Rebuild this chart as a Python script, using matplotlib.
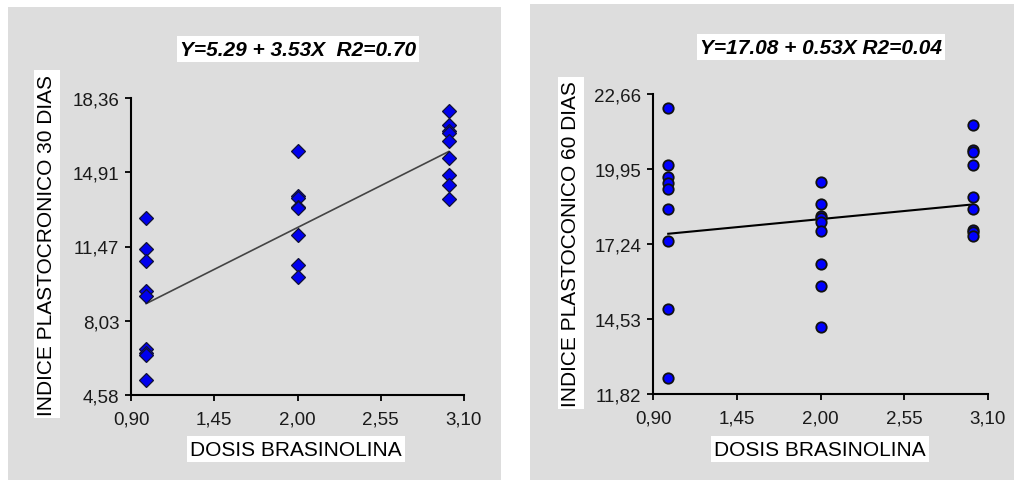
import matplotlib.pyplot as plt
from matplotlib.patches import Rectangle
import numpy as np

plt.rcParams['font.family'] = ['Liberation Sans', 'DejaVu Sans']

# Índice plastocrónico a los 30 días
dosis_30 = [1, 1, 1, 1, 1, 1, 1, 1, 1,
            2, 2, 2, 2, 2, 2, 2, 2,
            3, 3, 3, 3, 3, 3, 3, 3, 3]
ip_30 = [12.78, 11.37, 10.80, 9.41, 9.16, 6.71, 6.53, 6.44, 5.28,
         15.89, 13.83, 13.74, 13.32, 13.24, 12.02, 10.63, 10.04,
         17.77, 17.12, 16.82, 16.74, 16.38, 15.56, 14.80, 14.32, 13.67]
coef_30 = (5.29, 3.53)
r2_30 = 0.70
yticks_30 = [4.58, 8.03, 11.47, 14.91, 18.36]

# Índice plastocrónico a los 60 días
dosis_60 = [1, 1, 1, 1, 1, 1, 1, 1, 1,
            2, 2, 2, 2, 2, 2, 2, 2, 2,
            3, 3, 3, 3, 3, 3, 3, 3, 3]
ip_60 = [22.16, 20.10, 19.67, 19.43, 19.21, 18.50, 17.34, 14.89, 12.39,
         19.47, 18.68, 18.26, 18.17, 18.05, 17.72, 16.50, 15.73, 14.25,
         21.53, 20.65, 20.57, 20.10, 18.95, 18.50, 17.76, 17.66, 17.54]
coef_60 = (17.08, 0.53)
r2_60 = 0.04
yticks_60 = [11.82, 14.53, 17.24, 19.95, 22.66]

xticks = [0.90, 1.45, 2.00, 2.55, 3.10]

W, H = 1014, 481
fig = plt.figure(figsize=(W / 100, H / 100), dpi=100)
fig.patch.set_facecolor('white')

bg = '#dddddd'
fig.patches.append(Rectangle((8 / W, 0), 493 / W, 473 / H, transform=fig.transFigure,
                             facecolor=bg, edgecolor='none', zorder=-10))
fig.patches.append(Rectangle((530 / W, 0), 484 / W, 476 / H, transform=fig.transFigure,
                             facecolor=bg, edgecolor='none', zorder=-10))

ax1 = fig.add_axes([131 / W, 1 - 396 / H, 333 / W, 297 / H])
ax2 = fig.add_axes([653 / W, 1 - 395 / H, 335 / W, 300 / H])


def fmt(v):
    return f'{v:.2f}'.replace('.', ',')


def estilo(ax, yticks):
    ax.set_facecolor('none')
    for s in ('top', 'right'):
        ax.spines[s].set_visible(False)
    for s in ('left', 'bottom'):
        ax.spines[s].set_linewidth(1.5)
    ax.set_xlim(xticks[0], xticks[-1])
    ax.set_ylim(yticks[0], yticks[-1])
    ax.set_xticks(xticks)
    ax.set_xticklabels([fmt(v) for v in xticks])
    ax.set_yticks(yticks)
    ax.set_yticklabels([fmt(v) for v in yticks])
    ax.tick_params(direction='out', length=4.5, width=1.3, labelsize=13.5,
                   labelcolor='#1a1a1a')
    ax.tick_params(axis='x', pad=7)
    ax.tick_params(axis='y', pad=4)


estilo(ax1, yticks_30)
estilo(ax2, yticks_60)

xl = np.array([1.0, 3.0])
ax1.plot(xl, coef_30[0] + coef_30[1] * xl, color='#444444', lw=1.2, zorder=2)
ax1.plot(dosis_30, ip_30, linestyle='none', marker='D', markersize=7,
         markerfacecolor='#0000ee', markeredgecolor='#111133', markeredgewidth=0.9,
         zorder=3, clip_on=False)

ax2.plot(xl, coef_60[0] + coef_60[1] * xl, color='black', lw=1.5, zorder=2)
ax2.plot(dosis_60, ip_60, linestyle='none', marker='o', markersize=7.5,
         markerfacecolor='#0000ff', markeredgecolor='#111111', markeredgewidth=1.3,
         zorder=3, clip_on=False)

box = dict(facecolor='white', edgecolor='none', boxstyle='square,pad=0.15')

fig.text(298 / W, 1 - 50 / H,
         f'Y={coef_30[0]:.2f} + {coef_30[1]:.2f}X  R2={r2_30:.2f}',
         ha='center', va='center', fontsize=15, fontweight='bold', style='italic', bbox=box)
fig.text(821 / W, 1 - 48 / H,
         f'Y={coef_60[0]:.2f} + {coef_60[1]:.2f}X R2={r2_60:.2f}',
         ha='center', va='center', fontsize=15, fontweight='bold', style='italic', bbox=box)

fig.text(47 / W, 1 - 245 / H, 'INDICE PLASTOCRONICO 30 DIAS', rotation=90,
         ha='center', va='center', fontsize=15, bbox=box)
fig.text(571 / W, 1 - 244 / H, 'INDICE PLASTOCONICO 60 DIAS', rotation=90,
         ha='center', va='center', fontsize=15, bbox=box)

fig.text(296 / W, 1 - 450 / H, 'DOSIS BRASINOLINA', ha='center', va='center',
         fontsize=15, bbox=box)
fig.text(820 / W, 1 - 450 / H, 'DOSIS BRASINOLINA', ha='center', va='center',
         fontsize=15, bbox=box)

fig.savefig('out.png', dpi=100, facecolor='white')
